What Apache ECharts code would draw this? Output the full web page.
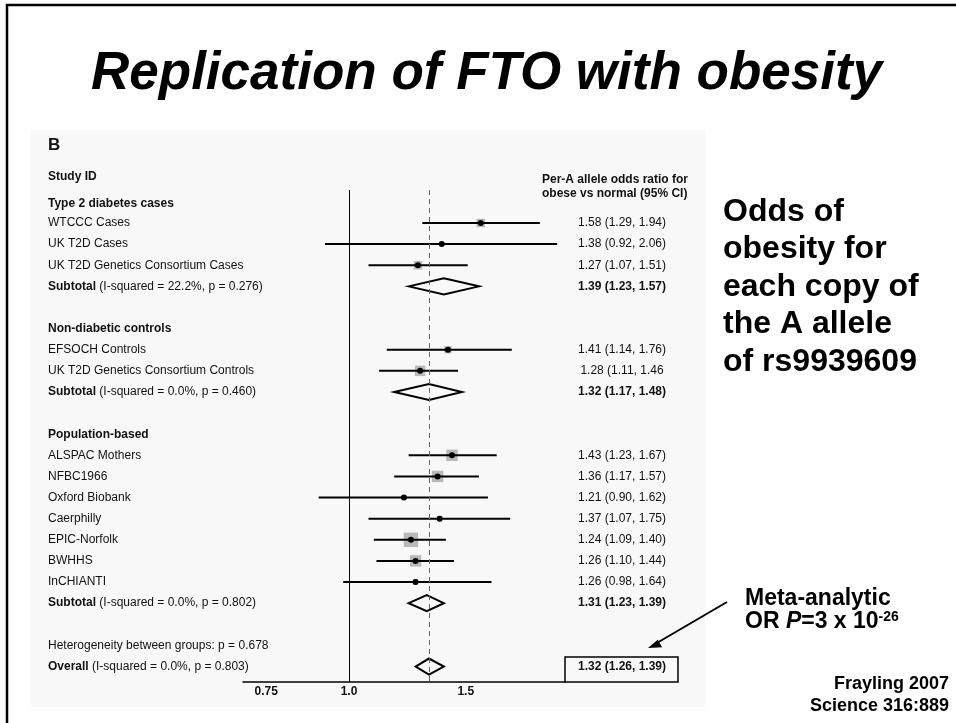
<!DOCTYPE html>
<html>
<head>
<meta charset="utf-8">
<script src="https://cdn.jsdelivr.net/npm/echarts@6/dist/echarts.min.js"></script>
<style>
  html, body { margin: 0; padding: 0; background: #ffffff; }
  #chart { width: 956px; height: 723px; }
</style>
</head>
<body>
<div id="chart"></div>
<script>
const FONT = '"Liberation Sans", Arial, Helvetica, sans-serif';

// Individual studies: row = vertical slot in the forest plot (0 = top)
const studyNames = ['WTCCC Cases', 'UK T2D Cases', 'UK T2D Genetics Consortium Cases',
  'EFSOCH Controls', 'UK T2D Genetics Consortium Controls',
  'ALSPAC Mothers', 'NFBC1966', 'Oxford Biobank', 'Caerphilly', 'EPIC-Norfolk', 'BWHHS', 'InCHIANTI'];
const studyRows = [1, 2, 3, 7, 8, 12, 13, 14, 15, 16, 17, 18];
const studyOR = [1.58, 1.38, 1.27, 1.41, 1.28, 1.43, 1.36, 1.21, 1.37, 1.24, 1.26, 1.26];
const studyLo = [1.29, 0.92, 1.07, 1.14, 1.11, 1.23, 1.17, 0.90, 1.07, 1.09, 1.10, 0.98];
const studyHi = [1.94, 2.06, 1.51, 1.76, 1.46, 1.67, 1.57, 1.62, 1.75, 1.40, 1.44, 1.64];
const studyWeight = [6.5, 1.5, 6.5, 5, 10, 12, 12, 2, 2.5, 19, 12, 2.5];
const studyText = ['1.58 (1.29, 1.94)', '1.38 (0.92, 2.06)', '1.27 (1.07, 1.51)',
  '1.41 (1.14, 1.76)', '1.28 (1.11, 1.46',
  '1.43 (1.23, 1.67)', '1.36 (1.17, 1.57)', '1.21 (0.90, 1.62)', '1.37 (1.07, 1.75)',
  '1.24 (1.09, 1.40)', '1.26 (1.10, 1.44)', '1.26 (0.98, 1.64)'];

// Pooled estimates (subtotals and overall)
const pooledNames = ['Subtotal', 'Subtotal', 'Subtotal', 'Overall'];
const pooledNotes = ['(I-squared = 22.2%, p = 0.276)', '(I-squared = 0.0%, p = 0.460)',
  '(I-squared = 0.0%, p = 0.802)', '(I-squared = 0.0%, p = 0.803)'];
const pooledRows = [4, 9, 19, 22];
const pooledOR = [1.39, 1.32, 1.31, 1.32];
const pooledLo = [1.23, 1.17, 1.23, 1.26];
const pooledHi = [1.57, 1.48, 1.39, 1.39];

// Group headings and the heterogeneity note
const groupNames = ['Type 2 diabetes cases', 'Non-diabetic controls', 'Population-based'];
const groupRows = [0.1, 6, 11];
const heterogeneityText = 'Heterogeneity between groups: p = 0.678';
const heterogeneityRow = 21;

// Odds-ratio axis
const xTickValues = [0.75, 1.0, 1.5];
const xTickLabels = ['0.75', '1.0', '1.5'];

const fmt = v => v.toFixed(2);
const LABEL_X = 48;      // left text column
const VALUE_X = 622;     // centre of the estimate column

const chart = echarts.init(document.getElementById('chart'), null, { renderer: 'canvas' });

const tableData = [];
groupNames.forEach((g, i) => tableData.push({ value: [1, groupRows[i]], left: '{b|' + g + '}', right: '' }));
studyNames.forEach((s, i) => tableData.push({ value: [1, studyRows[i]], left: s, right: studyText[i] }));
pooledNames.forEach((s, i) => tableData.push({
  value: [1, pooledRows[i]],
  left: '{b|' + s + '} ' + pooledNotes[i],
  right: '{b|' + fmt(pooledOR[i]) + ' (' + fmt(pooledLo[i]) + ', ' + fmt(pooledHi[i]) + ')}'
}));
tableData.push({ value: [1, heterogeneityRow], left: heterogeneityText, right: '' });

const richBold = { b: { fontWeight: 'bold', fontSize: 12, fontFamily: FONT, fill: '#111' } };

option = {
  animation: false,
  grid: { left: 243, top: 190, width: 322, height: 492 },
  xAxis: {
    type: 'log',
    min: 0.692,
    max: 2.117,
    axisLine: { show: true, onZero: false, lineStyle: { color: '#000', width: 1.5 } },
    axisTick: { show: false },
    minorTick: { show: false },
    splitLine: { show: false },
    axisLabel: {
      customValues: xTickValues,
      margin: 4,
      fontFamily: FONT,
      fontSize: 12,
      fontWeight: 'bold',
      color: '#111',
      formatter: function (v) {
        let best = 0;
        xTickValues.forEach((t, i) => { if (Math.abs(t - v) < Math.abs(xTickValues[best] - v)) best = i; });
        return xTickLabels[best];
      }
    }
  },
  yAxis: { type: 'value', inverse: true, min: -0.5625, max: 22.733, show: false },
  graphic: [
    { type: 'rect', z: 0, shape: { x: 31, y: 130, width: 674, height: 577 }, style: { fill: '#f8f8f8' } },
    { type: 'rect', z: 1, shape: { x: 7, y: 5, width: 1000, height: 800 }, style: { fill: 'none', stroke: '#000', lineWidth: 2.5 } },
    { type: 'text', z: 1, style: { text: 'Replication of FTO with obesity', x: 91, y: 74, verticalAlign: 'middle',
      font: 'italic bold 53px ' + FONT, fill: '#000' } },
    { type: 'text', z: 1, style: { text: 'B', x: 48, y: 145, verticalAlign: 'middle', font: 'bold 17px ' + FONT, fill: '#111' } },
    { type: 'text', z: 1, style: { text: 'Study ID', x: 48, y: 177, verticalAlign: 'middle', font: 'bold 12px ' + FONT, fill: '#111' } },
    { type: 'text', z: 1, style: { text: 'Per-A allele odds ratio for\nobese vs normal (95% CI)', x: 542, y: 187,
      verticalAlign: 'middle', lineHeight: 14, font: 'bold 12px ' + FONT, fill: '#111' } },
    { type: 'text', z: 1, style: { text: 'Odds of\nobesity for\neach copy of\nthe A allele\nof rs9939609', x: 723, y: 287,
      verticalAlign: 'middle', lineHeight: 37.5, font: 'bold 32px ' + FONT, fill: '#000' } },
    { type: 'text', z: 1, style: {
      text: 'Meta-analytic\nOR {i|P}=3 x 10{sup|-26}', x: 745, y: 610.5, verticalAlign: 'middle', lineHeight: 23,
      font: 'bold 23px ' + FONT, fill: '#000',
      rich: {
        i: { fontStyle: 'italic', fontWeight: 'bold', fontSize: 23, fontFamily: FONT, fill: '#000', lineHeight: 23 },
        sup: { fontWeight: 'bold', fontSize: 14, fontFamily: FONT, fill: '#000', verticalAlign: 'top', lineHeight: 23, padding: [0, 0, 6, 0] }
      } } },
    { type: 'text', z: 1, style: { text: 'Frayling 2007\nScience 316:889', x: 949, y: 695.5, align: 'right',
      verticalAlign: 'middle', lineHeight: 22, font: 'bold 18px ' + FONT, fill: '#000' } },
    { type: 'line', z: 1, shape: { x1: 727, y1: 602, x2: 656, y2: 643.5 }, style: { stroke: '#000', lineWidth: 2 } },
    { type: 'polygon', z: 1, shape: { points: [[648, 648], [657.7, 639.7], [662.1, 647.2]] }, style: { fill: '#000' } },
    { type: 'rect', z: 5, shape: { x: 565, y: 657, width: 113, height: 25 }, style: { fill: 'none', stroke: '#000', lineWidth: 1.5 } }
  ],
  series: [
    {
      // text table: labels on the left, estimates in the right column
      type: 'custom',
      silent: true,
      clip: false,
      data: tableData,
      renderItem: function (params, api) {
        const item = tableData[params.dataIndex];
        const y = api.coord([1, api.value(1)])[1];
        return {
          type: 'group',
          children: [
            { type: 'text', style: { text: item.left, x: LABEL_X, y: y, verticalAlign: 'middle', align: 'left',
              fontSize: 12, fontFamily: FONT, fill: '#111', rich: richBold } },
            { type: 'text', style: { text: item.right, x: VALUE_X, y: y, verticalAlign: 'middle', align: 'center',
              fontSize: 12, fontFamily: FONT, fill: '#111', rich: richBold } }
          ]
        };
      },
      markLine: {
        silent: true,
        symbol: 'none',
        label: { show: false },
        data: [
          { xAxis: 1, lineStyle: { type: 'solid', color: '#000', width: 1 } },
          { xAxis: pooledOR[3], lineStyle: { type: [5, 4], color: '#666', width: 1 } }
        ]
      }
    },
    {
      // study estimates: weight box, confidence interval, point estimate
      type: 'custom',
      silent: true,
      clip: false,
      z: 3,
      data: studyOR.map((v, i) => [v, studyRows[i], studyLo[i], studyHi[i], studyWeight[i]]),
      renderItem: function (params, api) {
        const c = api.coord([api.value(0), api.value(1)]);
        const l = api.coord([api.value(2), api.value(1)]);
        const h = api.coord([api.value(3), api.value(1)]);
        const s = 3.3 * Math.sqrt(api.value(4));
        return {
          type: 'group',
          children: [
            { type: 'rect', shape: { x: c[0] - s / 2, y: c[1] - s / 2, width: s, height: s }, style: { fill: '#b9b9b9' } },
            { type: 'line', shape: { x1: l[0], y1: l[1], x2: h[0], y2: h[1] }, style: { stroke: '#000', lineWidth: 2 } },
            { type: 'circle', shape: { cx: c[0], cy: c[1], r: 3 }, style: { fill: '#000' } }
          ]
        };
      }
    },
    {
      // pooled estimates as open diamonds
      type: 'custom',
      silent: true,
      clip: false,
      z: 3,
      data: pooledOR.map((v, i) => [v, pooledRows[i], pooledLo[i], pooledHi[i]]),
      renderItem: function (params, api) {
        const c = api.coord([api.value(0), api.value(1)]);
        const l = api.coord([api.value(2), api.value(1)]);
        const h = api.coord([api.value(3), api.value(1)]);
        const d = 8;
        return {
          type: 'polygon',
          shape: { points: [[l[0], c[1]], [c[0], c[1] - d], [h[0], c[1]], [c[0], c[1] + d]] },
          style: { fill: 'none', stroke: '#000', lineWidth: 2 }
        };
      }
    }
  ]
};

chart.setOption(option);
</script>
</body>
</html>
